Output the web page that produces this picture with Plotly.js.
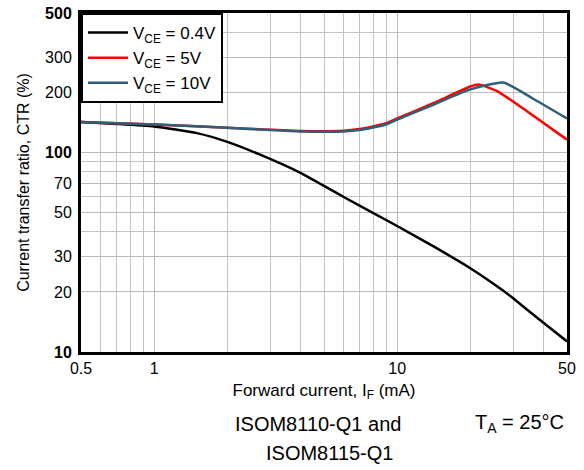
<!DOCTYPE html>
<html>
<head>
<meta charset="utf-8">
<script src="https://cdn.plot.ly/plotly-3.0.1.min.js"></script>
<style>
html,body{margin:0;padding:0;background:#fff;}
#chart{width:584px;height:470px;}
</style>
</head>
<body>
<div id="chart"></div>
<script>
// Forward current IF (mA) and CTR (%)
var xLow = [0.5, 0.7, 1, 1.5, 2, 2.7, 4, 6, 10, 14, 20, 27, 30, 40, 50];
var yLow = [142, 139, 135, 125, 113, 98, 79, 60, 42.8, 34, 26.3, 20.5, 18.6, 14.0, 11.3];

var xMid = [0.5, 1, 2, 3, 4, 6, 7, 9, 10, 14, 20, 21.6, 26, 36, 50];
var yMid = [142, 138, 133, 130, 128.2, 128.4, 131, 140, 148, 176, 214, 219, 202, 154, 116];

var xHigh = [0.5, 1, 2, 3, 4, 6, 7, 9, 10, 14, 20, 27.3, 36, 50];
var yHigh = [142, 138, 133, 129.5, 127.5, 127.5, 129.5, 138, 146, 173, 207, 224, 187, 148];

var seriesNames = ["V<sub>CE</sub> = 0.4V", "V<sub>CE</sub> = 5V", "V<sub>CE</sub> = 10V"];

var xTickVals = [0.5, 1, 10, 50];
var xTickText = ["0.5", "1", "10", "50"];
var xMinorVals = [0.6, 0.7, 0.8, 0.9, 2, 3, 4, 5, 6, 7, 8, 9, 20, 30, 40];
var yTickVals = [10, 20, 30, 50, 70, 100, 200, 300, 500];
var yTickText = ["<b>10</b>", "20", "30", "50", "70", "<b>100</b>", "200", "300", "<b>500</b>"];
var yMinorVals = [40, 60, 80, 90, 400];

var fontFam = "Arial, 'Liberation Sans', sans-serif";

var traces = [
  {x: xLow, y: yLow, name: seriesNames[0], mode: "lines", line: {color: "#000000", width: 2.5, shape: "spline", smoothing: 0.5}},
  {x: xMid, y: yMid, name: seriesNames[1], mode: "lines", line: {color: "#ff0000", width: 2.5, shape: "spline", smoothing: 0.5}},
  {x: xHigh, y: yHigh, name: seriesNames[2], mode: "lines", line: {color: "#2f5f78", width: 2.5, shape: "spline", smoothing: 0.5}}
];

var layout = {
  width: 584, height: 470,
  margin: {l: 81, r: 17, t: 13, b: 118},
  paper_bgcolor: "#ffffff", plot_bgcolor: "#ffffff",
  font: {family: fontFam, size: 16, color: "#000"},
  showlegend: true,
  legend: {
    x: 0, y: 1, xanchor: "left", yanchor: "top",
    bgcolor: "#ffffff", bordercolor: "#000", borderwidth: 2,
    font: {family: fontFam, size: 17, color: "#000"},
    itemwidth: 40, tracegroupgap: 0
  },
  xaxis: {
    type: "log", range: [Math.log10(0.5), Math.log10(50)],
    tickmode: "array", tickvals: xTickVals, ticktext: xTickText,
    ticks: "", showgrid: true, gridcolor: "#bbbbbb", gridwidth: 1,
    minor: {tickmode: "array", tickvals: xMinorVals, showgrid: true, gridcolor: "#c4c4c4", gridwidth: 1, ticks: ""},
    showline: true, linecolor: "#000", linewidth: 3, mirror: true,
    zeroline: false, tickfont: {size: 16},
    title: {text: "Forward current, I<sub>F</sub> (mA)", font: {size: 17}, standoff: 8}
  },
  yaxis: {
    type: "log", range: [1, Math.log10(500)],
    tickmode: "array", tickvals: yTickVals, ticktext: yTickText,
    ticks: "", showgrid: true, gridcolor: "#bbbbbb", gridwidth: 1,
    minor: {tickmode: "array", tickvals: yMinorVals, showgrid: true, gridcolor: "#c4c4c4", gridwidth: 1, ticks: ""},
    showline: true, linecolor: "#000", linewidth: 3, mirror: true,
    zeroline: false, tickfont: {size: 16}, ticklabelstandoff: 3,
    title: {text: "Current transfer ratio, CTR (%)", font: {size: 16}, standoff: 12}
  },
  annotations: [
    {text: "ISOM8110-Q1 and", xref: "paper", yref: "paper", x: 0.488, y: -0.212, xanchor: "center", yanchor: "middle", showarrow: false, font: {size: 20}},
    {text: "ISOM8115-Q1", xref: "paper", yref: "paper", x: 0.512, y: -0.298, xanchor: "center", yanchor: "middle", showarrow: false, font: {size: 20}},
    {text: "T<sub>A</sub> = 25°C", xref: "paper", yref: "paper", x: 0.903, y: -0.212, xanchor: "center", yanchor: "middle", showarrow: false, font: {size: 20}}
  ]
};

Plotly.newPlot("chart", traces, layout, {displayModeBar: false, staticPlot: true});
</script>
</body>
</html>
